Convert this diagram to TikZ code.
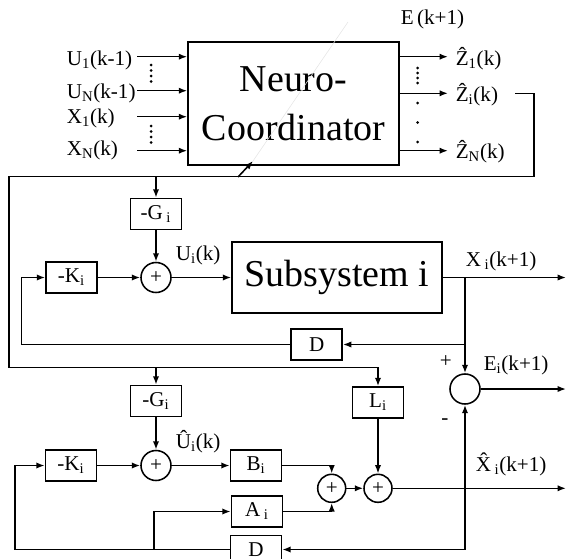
\documentclass[tikz,border=0pt]{standalone}
\usepackage{fontspec}
\setmainfont{Liberation Serif}
\usetikzlibrary{arrows.meta, positioning, calc}

\begin{document}
\begin{tikzpicture}[
  x=0.025cm, y=-0.025cm, line width=1.1pt,
  arr/.style={-{Latex[length=6pt,width=4.5pt]}},
  blk/.style={draw, minimum width=1.275cm, minimum height=0.775cm, inner sep=0pt, font=\fontsize{15}{18}\selectfont},
  sumc/.style={draw, circle, minimum size=0.75cm, inner sep=0pt, font=\fontsize{15}{17}\selectfont},
  lbl/.style={anchor=base west, inner sep=0pt, font=\fontsize{15}{18}\selectfont}
]
  \useasboundingbox (0,0) rectangle (566,559);

  \node[draw, minimum width=5.275cm, minimum height=3.075cm, align=center, inner sep=0pt,
        font=\fontsize{27}{35}\selectfont] (nc) at (293.5,103.5) {Neuro-\\Coordinator};
  \node[draw, minimum width=5.25cm, minimum height=1.775cm, inner sep=0pt,
        font=\fontsize{27}{35}\selectfont] (sub) at (337,277.5) {Subsystem i};

  \node[lbl] (u1) at (66,65) {U\textsubscript{1}(k-1)};
  \node[lbl] (un) at (66,98) {U\textsubscript{N}(k-1)};
  \node[lbl] (x1) at (66,123) {X\textsubscript{1}(k)};
  \node[lbl] (xn) at (66,155.5) {X\textsubscript{N}(k)};
  \coordinate (u1s) at (137,56.7);
  \coordinate (uns) at (137,90.7);
  \coordinate (x1s) at (137,116.7);
  \coordinate (xns) at (137,150.7);
  \draw[arr] (u1s) -- (u1s -| nc.west);
  \draw[arr] (uns) -- (uns -| nc.west);
  \draw[arr] (x1s) -- (x1s -| nc.west);
  \draw[arr] (xns) -- (xns -| nc.west);
  \foreach \y in {65,70.5,76,81.5,126,131.5,137,142.5}
    \fill (151,\y) circle (1.5);

  \node[lbl] (z1) at (455,65) {\^{Z}\textsubscript{1}(k)};
  \node[lbl] (zi) at (455,101.7) {\^{Z}\textsubscript{i}(k)};
  \node[lbl] (zn) at (455,158.5) {\^{Z}\textsubscript{N}(k)};
  \node[lbl] (ek) at (400,25) {E\,(k+1)};
  \coordinate (z1e) at (448,56.7);
  \coordinate (zie) at (448,93.3);
  \coordinate (zne) at (448,150.7);
  \draw[arr] (z1e -| nc.east) -- (z1e);
  \draw[arr] (zie -| nc.east) -- (zie);
  \draw[arr] (zne -| nc.east) -- (zne);
  \foreach \y in {68,73,78,83,103,122.5,142}
    \fill (417.5,\y) circle (1.5);

  \coordinate (ad0) at (238,177);
  \coordinate (ad1) at (253,161);
  \coordinate (ad2) at (348,22);
  \draw[arr] (ad0) -- (ad1);
  \draw[gray!20, line width=0.4pt] (ad1) -- (ad2);

  \node[blk] (g1) at (156,214) {-G\,\textsubscript{i}};
  \node[sumc] (s1) at (156,277.5) {+};
  \node[blk] (k1) at (71.5,277.5) {-K\textsubscript{i}};
  \node[blk] (d1) at (316.7,344.5) {D};
  \node[sumc] (mc) at (465,389) {};

  \node[blk] (g2) at (156,401) {-G\textsubscript{i}};
  \node[sumc] (s2) at (156,465.5) {+};
  \node[blk] (k2) at (71,465.5) {-K\textsubscript{i}};
  \node[blk] (bi) at (256,465.5) {B\textsubscript{i}};
  \node[blk] (ai) at (257,511.5) {A\,\textsubscript{i}};
  \node[blk, minimum height=0.7cm] (d2) at (256,549.5) {D};
  \node[blk] (li) at (378,402.5) {L\textsubscript{i}};
  \node[sumc, minimum size=0.7cm] (sa) at (331.7,488.3) {+};
  \node[sumc, minimum size=0.7cm] (sb) at (378,488.3) {+};

  \coordinate (fbA) at (515,93.3);
  \coordinate (fbB) at (534,176.7);
  \coordinate (fbC) at (9,176.7);
  \coordinate (fbD) at (378,367.5);
  \draw[arr] (fbA) -| (fbB) -- (fbC) |- (fbD) -- (li.north);
  \draw[arr] (g1.north |- fbC) -- (g1.north);
  \draw[arr] (g2.north |- fbD) -- (g2.north);

  \draw[arr] (g1) -- (s1);
  \draw[arr] (k1) -- (s1);
  \draw[arr] (s1) -- (sub);
  \node[lbl] (ui) at (175,260) {U\textsubscript{i}(k)};
  \coordinate (xo) at (566,277.5);
  \coordinate (xb) at (465,277.5);
  \draw[arr] (sub.east) -- (xo);
  \node[lbl] (xi) at (465,266.7) {X\,\textsubscript{i}(k+1)};
  \draw[arr] (xb) -- (mc.north);
  \draw[arr] (xb |- d1) -- (d1.east);
  \coordinate (k1in) at (21.7,344.5);
  \draw[arr] (d1.west) -- (k1in) |- (k1.west);

  \coordinate (eo) at (566,389);
  \draw[arr] (mc.east) -- (eo);
  \node[lbl] (ei) at (483,370) {E\textsubscript{i}(k+1)};
  \node[font=\fontsize{15}{18}\selectfont, inner sep=0pt] (pl) at (445.7,362) {+};
  \node[font=\fontsize{15}{18}\selectfont, inner sep=0pt] (mi) at (445,421.7) {-};

  \draw[arr] (g2) -- (s2);
  \draw[arr] (k2) -- (s2);
  \draw[arr] (s2) -- (bi);
  \node[lbl] (uh) at (175,448.3) {\^{U}\textsubscript{i}(k)};
  \draw[arr] (bi.east) -| (sa.north);
  \draw[arr] (ai.east) -| (sa.south);
  \draw[arr] (sa) -- (sb);
  \draw[arr] (li) -- (sb);
  \coordinate (xho) at (566,488.3);
  \draw[arr] (sb) -- (xho);
  \node[lbl] (xh) at (475,471.7) {\^{X}\,\textsubscript{i}(k+1)};
  \coordinate (xhd) at (465,549.5);
  \draw[arr] (xhd) -- (mc.south);
  \draw[arr] (xhd) -- (d2.east);
  \coordinate (k2in) at (15,549.5);
  \draw[arr] (d2.west) -- (k2in) |- (k2.west);
  \coordinate (aiin) at (154,549.5);
  \draw[arr] (aiin) |- (ai.west);
\end{tikzpicture}
\end{document}
